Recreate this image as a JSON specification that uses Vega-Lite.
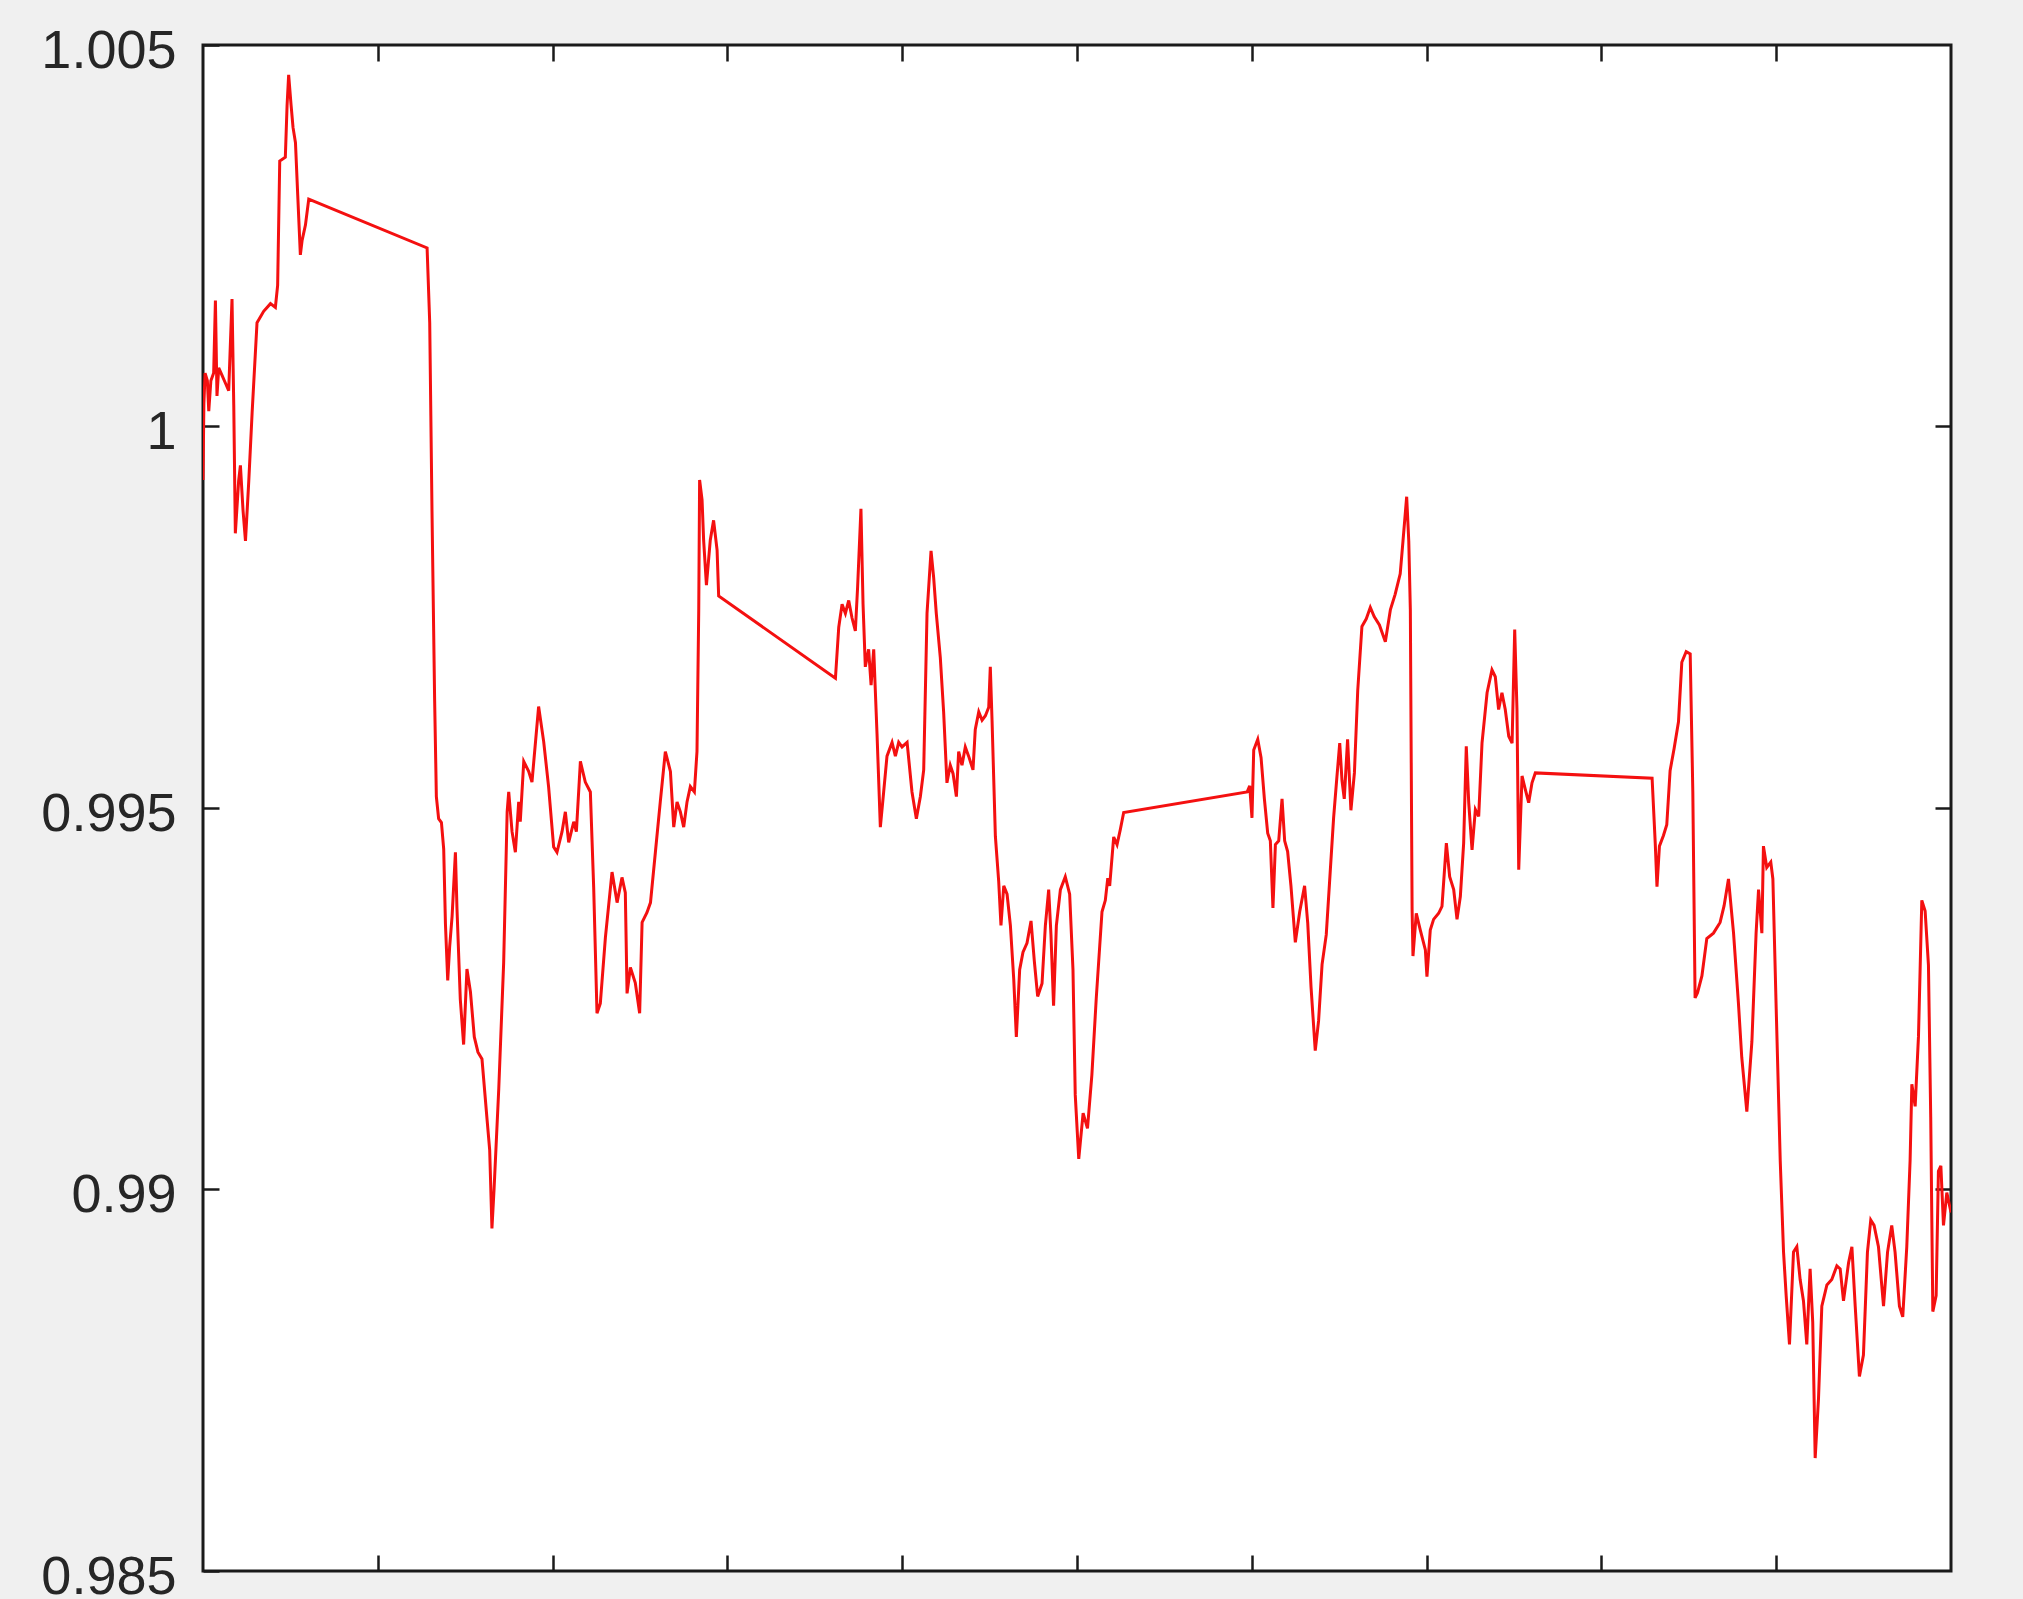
{
  "$schema": "https://vega.github.io/schema/vega-lite/v6.json",
  "width": 1748,
  "height": 1526,
  "autosize": "none",
  "padding": {"left": 203, "top": 45, "right": 72, "bottom": 28},
  "background": "#f0f0f0",
  "config": {
    "view": {"stroke": "#1a1a1a", "strokeWidth": 3, "fill": "white"},
    "axis": {"grid": false, "domain": false, "tickColor": "#1a1a1a", "tickWidth": 2.5, "tickSize": -16, "labelFont": "Liberation Sans", "labelFontSize": 54, "labelColor": "#262626", "title": null}
  },
  "data": {"values": [
    {"x":0,"y":0.9993},{"x":0.5,"y":1.0003},{"x":1.2,"y":1.0007},{"x":2.5,"y":1.0006},{"x":3.3,"y":1.0002},{"x":4.5,"y":1.0006},{"x":6.1,"y":1.0007},{"x":7.1,"y":1.00165},{"x":8,"y":1.0004},{"x":9,"y":1.00077},{"x":10.9,"y":1.00067},{"x":12.8,"y":1.00057},{"x":14.7,"y":1.00047},{"x":16.6,"y":1.00167},{"x":17.6,"y":1.00028},{"x":18.5,"y":0.9986},{"x":20.4,"y":0.99929},{"x":21.4,"y":0.99949},{"x":22.9,"y":0.9989},{"x":24.3,"y":0.9985},{"x":26.2,"y":0.99929},{"x":28.1,"y":1.00018},{"x":30.9,"y":1.00136},{"x":34.7,"y":1.00151},{"x":38.6,"y":1.00161},{"x":41.4,"y":1.00156},{"x":42.7,"y":1.00185},{"x":43.9,"y":1.00348},{"x":47.1,"y":1.00353},{"x":48.1,"y":1.00421},{"x":49.0,"y":1.00461},{"x":50.4,"y":1.00421},{"x":51.5,"y":1.00392},{"x":52.9,"y":1.00372},{"x":54.2,"y":1.00303},{"x":55.7,"y":1.00225},{"x":56.7,"y":1.00244},{"x":58.6,"y":1.00264},{"x":60.5,"y":1.00298},
    {"x":128.2,"y":1.00234},{"x":129.7,"y":1.00136},{"x":131.0,"y":0.9989},{"x":132.5,"y":0.99643},{"x":133.5,"y":0.99515},{"x":134.8,"y":0.99486},{"x":136.4,"y":0.99481},{"x":137.7,"y":0.99446},{"x":138.7,"y":0.99348},{"x":140.0,"y":0.99274},{"x":141.1,"y":0.99318},{"x":142.5,"y":0.99358},{"x":144.4,"y":0.99442},{"x":145.3,"y":0.99368},{"x":147.2,"y":0.99249},{"x":149.1,"y":0.9919},{"x":151.0,"y":0.99289},{"x":153.0,"y":0.99259},{"x":155.2,"y":0.992},{"x":157.3,"y":0.9918},{"x":159.6,"y":0.99171},{"x":162.5,"y":0.99092},{"x":164.0,"y":0.99052},{"x":165.3,"y":0.98949},
    {"x":166.5,"y":0.99},{"x":169.2,"y":0.99132},{"x":172.0,"y":0.99297},{"x":174.0,"y":0.99495},{"x":174.9,"y":0.99521},{"x":176.8,"y":0.99469},{"x":178.7,"y":0.99442},{"x":180.6,"y":0.99508},{"x":181.5,"y":0.99482},{"x":183.5,"y":0.99561},{"x":186.3,"y":0.99548},{"x":188.2,"y":0.99534},{"x":192.0,"y":0.99633},{"x":194.9,"y":0.99587},{"x":197.7,"y":0.99528},{"x":200.6,"y":0.99449},{"x":202.5,"y":0.99442},{"x":205.4,"y":0.99469},{"x":207.3,"y":0.99495},{"x":209.2,"y":0.99455},{"x":212.1,"y":0.99482},{"x":213.6,"y":0.99469},{"x":215.9,"y":0.99561},{"x":218.7,"y":0.99534},{"x":221.6,"y":0.99521},{"x":223.5,"y":0.99396},{"x":225.4,"y":0.99231},{"x":227.3,"y":0.99244},{"x":230.2,"y":0.9933},{"x":234.0,"y":0.99416},{"x":236.9,"y":0.99376},{"x":239.7,"y":0.99409},{"x":241.6,"y":0.99389},{"x":242.6,"y":0.99257},{"x":244.5,"y":0.99291},{"x":247.3,"y":0.99271},{"x":249.8,"y":0.99231},{"x":251.2,"y":0.9935},{"x":254.0,"y":0.99363},{"x":256.0,"y":0.99376},{"x":258.8,"y":0.99442},{"x":261.6,"y":0.99508},{"x":264.5,"y":0.99574},{"x":267.4,"y":0.99548},{"x":269.3,"y":0.99475},{"x":271.2,"y":0.99508},{"x":273.1,"y":0.99495},{"x":275.0,"y":0.99475},{"x":276.9,"y":0.99508},{"x":278.8,"y":0.99528},{"x":281.1,"y":0.99521},{"x":282.6,"y":0.99574},{"x":283.6,"y":0.99759},{"x":284.1,"y":0.9993},{"x":285.5,"y":0.99904},{"x":286.4,"y":0.99851},{"x":288.0,"y":0.99792},{"x":290.2,"y":0.99851},{"x":292.1,"y":0.99877},{"x":294.1,"y":0.99838},{"x":295.0,"y":0.99778},
    {"x":361.8,"y":0.9967},{"x":363.7,"y":0.99737},{"x":365.6,"y":0.99767},{"x":367.5,"y":0.99755},{"x":369.4,"y":0.99772},{"x":371.3,"y":0.99749},{"x":373.2,"y":0.99732},{"x":374.5,"y":0.9979},{"x":376.4,"y":0.99892},{"x":377.6,"y":0.99767},{"x":378.9,"y":0.99685},{"x":380.8,"y":0.99708},{"x":382.2,"y":0.99661},{"x":383.7,"y":0.99708},{"x":385.6,"y":0.99597},{"x":387.5,"y":0.99475},{"x":389.4,"y":0.99521},{"x":391.3,"y":0.99568},{"x":394.2,"y":0.99586},{"x":396.1,"y":0.99568},{"x":398.0,"y":0.99586},{"x":399.9,"y":0.9958},{"x":402.8,"y":0.99586},{"x":405.6,"y":0.99521},{"x":408.1,"y":0.99486},{"x":410.4,"y":0.99515},{"x":412.3,"y":0.9955},{"x":414.2,"y":0.99755},{"x":416.5,"y":0.99837},{"x":418.0,"y":0.99802},{"x":419.5,"y":0.99755},{"x":421.8,"y":0.99697},{"x":423.7,"y":0.99626},{"x":425.6,"y":0.99533},{"x":427.5,"y":0.99556},{"x":429.1,"y":0.99545},{"x":431.0,"y":0.99515},{"x":432.3,"y":0.99574},{"x":434.2,"y":0.99556},{"x":436.1,"y":0.9958},{"x":438.0,"y":0.99568},{"x":440.5,"y":0.9955},{"x":441.8,"y":0.99603},{"x":443.8,"y":0.99626},{"x":445.7,"y":0.99615},{"x":447.6,"y":0.99621},{"x":449.5,"y":0.99632},{"x":450.4,"y":0.99685},{"x":451.4,"y":0.99615},{"x":453.3,"y":0.99463},{"x":455.2,"y":0.99404},{"x":456.5,"y":0.99346},{"x":458.1,"y":0.99398},{"x":460.0,"y":0.99387},{"x":461.9,"y":0.99346},{"x":463.8,"y":0.99276},{"x":465.3,"y":0.992},{"x":467.2,"y":0.99288},{"x":469.1,"y":0.99311},{"x":471.4,"y":0.99323},{"x":473.7,"y":0.99352},{"x":475.6,"y":0.99299},{"x":477.5,"y":0.99253},{"x":480.0,"y":0.9927},{"x":481.9,"y":0.99346},{"x":483.8,"y":0.99393},{"x":485.1,"y":0.99334},{"x":486.6,"y":0.99241},{"x":488.2,"y":0.99346},{"x":490.5,"y":0.99393},{"x":493.3,"y":0.9941},{"x":495.8,"y":0.99387},{"x":497.7,"y":0.99288},{"x":499.0,"y":0.99124},{"x":501.0,"y":0.9904},
    {"x":503.5,"y":0.991},{"x":506,"y":0.9908},{"x":508.5,"y":0.9915},{"x":511,"y":0.9925},{"x":514.3,"y":0.99364},{"x":516.2,"y":0.99379},{"x":517.6,"y":0.99408},{"x":518.7,"y":0.99398},{"x":521.0,"y":0.99462},{"x":522.9,"y":0.99452},{"x":524.8,"y":0.99472},{"x":526.7,"y":0.99494},{"x":597.3,"y":0.99521},{"x":598.8,"y":0.99529},{"x":600.1,"y":0.99487},{"x":601.1,"y":0.99576},{"x":603.4,"y":0.9959},{"x":605.3,"y":0.99566},{"x":607.2,"y":0.99512},{"x":609.1,"y":0.99467},{"x":610.6,"y":0.99457},{"x":612.1,"y":0.99369},{"x":613.5,"y":0.99452},{"x":615.4,"y":0.99457},{"x":617.3,"y":0.99512},{"x":618.8,"y":0.99457},{"x":620.5,"y":0.99443},{"x":622.4,"y":0.99398},{"x":624.9,"y":0.99324},{"x":627.4,"y":0.99364},{"x":630.2,"y":0.99398},{"x":632.0,"y":0.99349},{"x":633.9,"y":0.99265},{"x":636.3,"y":0.99182},{"x":638.2,"y":0.99221},{"x":640.2,"y":0.99295},{"x":642.6,"y":0.99334},{"x":644.9,"y":0.99418},{"x":646.8,"y":0.99487},{"x":648.7,"y":0.99541},{"x":650.3,"y":0.99585},{"x":651.6,"y":0.99536},{"x":652.9,"y":0.99512},{"x":654.8,"y":0.9959},{"x":656.7,"y":0.99497},{"x":658.7,"y":0.99546},{"x":660.6,"y":0.99654},{"x":663.0,"y":0.99738},{"x":665.5,"y":0.99748},{"x":667.8,"y":0.99763},
    {"x":670,"y":0.99751},{"x":673,"y":0.9974},{"x":676.4,"y":0.99718},{"x":679.3,"y":0.9976},{"x":682,"y":0.9978},{"x":684.9,"y":0.99807},{"x":686.5,"y":0.9985},{"x":688.6,"y":0.99908},{"x":689.8,"y":0.9985},{"x":690.7,"y":0.9976},{"x":691.7,"y":0.99367},{"x":692.2,"y":0.99306},{"x":694.1,"y":0.99362},{"x":696.4,"y":0.9934},{"x":699.3,"y":0.99314},{"x":700.2,"y":0.99279},{"x":702.1,"y":0.9934},{"x":704.0,"y":0.99354},{"x":706.9,"y":0.99362},{"x":708.8,"y":0.99371},{"x":711.3,"y":0.99454},{"x":713.2,"y":0.9941},{"x":715.5,"y":0.99393},{"x":717.4,"y":0.99354},{"x":719.3,"y":0.99384},{"x":721.2,"y":0.99454},{"x":722.7,"y":0.99581},{"x":724.1,"y":0.99507},{"x":726.0,"y":0.99445},{"x":727.9,"y":0.99498},{"x":729.8,"y":0.99489},{"x":731.7,"y":0.99585},{"x":734.6,"y":0.99651},{"x":737.4,"y":0.99681},{"x":739.3,"y":0.99672},{"x":741.2,"y":0.99629},{"x":743.1,"y":0.99651},{"x":745.0,"y":0.99629},{"x":747.0,"y":0.99594},{"x":748.9,"y":0.99585},{"x":750.4,"y":0.99734},{"x":751.7,"y":0.99629},{"x":752.7,"y":0.99419},{"x":754.6,"y":0.99542},{"x":756.5,"y":0.99524},{"x":758.4,"y":0.99507},{"x":760.3,"y":0.99533},{"x":762.2,"y":0.99546},
    {"x":829.0,"y":0.99539},{"x":830.8,"y":0.99454},{"x":831.8,"y":0.99397},{"x":833.2,"y":0.9945},{"x":835.5,"y":0.99464},{"x":837.4,"y":0.99478},{"x":839.3,"y":0.99549},{"x":841.6,"y":0.99578},{"x":844.1,"y":0.99613},{"x":846.0,"y":0.99691},{"x":848.5,"y":0.99705},{"x":850.8,"y":0.99702},{"x":852.3,"y":0.99521},{"x":853.6,"y":0.99251},{"x":855.0,"y":0.99258},{"x":857.5,"y":0.9928},{"x":860.3,"y":0.99329},{"x":864.1,"y":0.99336},{"x":867.9,"y":0.9935},{"x":870.2,"y":0.99372},{"x":872.7,"y":0.99407},{"x":875.6,"y":0.99336},{"x":878.4,"y":0.99244},{"x":880.3,"y":0.99173},{"x":883.2,"y":0.99102},{"x":886.1,"y":0.99194},{"x":888.5,"y":0.99336},{"x":889.9,"y":0.99393},{"x":891.8,"y":0.99336},{"x":892.7,"y":0.9945},{"x":894.6,"y":0.99422},{"x":896.9,"y":0.99429},{"x":898.1,"y":0.99407},{"x":900.0,"y":0.99237},{"x":902.3,"y":0.99038},{"x":904.2,"y":0.98918},{"x":905.7,"y":0.98861},{"x":907.6,"y":0.98797},{"x":909.9,"y":0.98918},{"x":911.8,"y":0.98925},{"x":913.7,"y":0.98882},{"x":915.6,"y":0.98854},{"x":917.5,"y":0.98797},{"x":919.4,"y":0.98896},{"x":920.9,"y":0.98826},{"x":922.3,"y":0.98648},{"x":924.2,"y":0.98726},{"x":926.1,"y":0.98847},{"x":929.0,"y":0.98875},{"x":931.8,"y":0.98882},{"x":934.7,"y":0.989},{"x":936.6,"y":0.98896},{"x":938.5,"y":0.98854},{"x":941.4,"y":0.98904},{"x":943.3,"y":0.98925},{"x":945.2,"y":0.98847},{"x":947.6,"y":0.98755},{"x":949.9,"y":0.98783},{"x":952.2,"y":0.98918},{"x":954.1,"y":0.9896},{"x":956.0,"y":0.98953},{"x":958.5,"y":0.98925},{"x":961.4,"y":0.98847},{"x":963.7,"y":0.98918},{"x":966.1,"y":0.98953},{"x":968.0,"y":0.98918},{"x":970.5,"y":0.98847},{"x":972.4,"y":0.98833},{"x":974.7,"y":0.98925},{"x":976.6,"y":0.99038},{"x":977.6,"y":0.99138},{"x":979.5,"y":0.99109},{"x":981.4,"y":0.99201},{"x":983.3,"y":0.99379},{"x":985.2,"y":0.99365},{"x":987.1,"y":0.99294},{"x":988.4,"y":0.99095},{"x":989.6,"y":0.9884},{"x":991.5,"y":0.98861},{"x":992.8,"y":0.99024},{"x":994.2,"y":0.99031},{"x":995.7,"y":0.98953},{"x":997.6,"y":0.98996},{"x":1000,"y":0.9897}
  ]},
  "layer": [
    {
      "mark": {"type": "line", "color": "#f41010", "strokeWidth": 3, "clip": true},
      "encoding": {
        "x": {"field": "x", "type": "quantitative", "scale": {"domain": [0, 1000], "nice": false, "zero": false},
              "axis": {"orient": "bottom", "values": [100, 200, 300, 400, 500, 600, 700, 800, 900], "labels": false}},
        "y": {"field": "y", "type": "quantitative", "scale": {"domain": [0.985, 1.005], "nice": false, "zero": false},
              "axis": {"orient": "left", "values": [0.985, 0.99, 0.995, 1, 1.005], "format": ".4~f", "labelPadding": 43, "labelOffset": 6, "labelFlush": false, "labelOverlap": false, "labelBaseline": "middle"}}
      }
    },
    {
      "mark": {"type": "line", "strokeOpacity": 0, "clip": true},
      "encoding": {
        "x": {"field": "x", "type": "quantitative",
              "axis": {"orient": "top", "values": [100, 200, 300, 400, 500, 600, 700, 800, 900], "labels": false}},
        "y": {"field": "y", "type": "quantitative",
              "axis": {"orient": "right", "values": [0.99, 0.995, 1], "labels": false}}
      }
    }
  ],
  "resolve": {"axis": {"x": "independent", "y": "independent"}}
}
